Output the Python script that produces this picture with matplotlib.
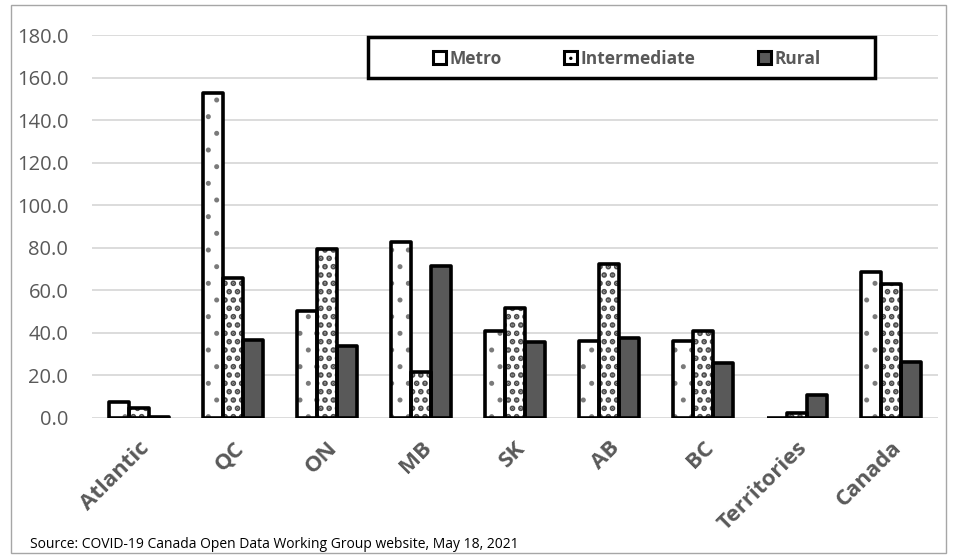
import numpy as np
import matplotlib as mpl
import matplotlib.pyplot as plt
from matplotlib.patches import Rectangle, Patch

plt.rcParams['font.family'] = ['Open Sans', 'DejaVu Sans']
plt.rcParams['hatch.linewidth'] = 1.2

regions = ['Atlantic', 'QC', 'ON', 'MB', 'SK', 'AB', 'BC', 'Territories', 'Canada']
metro = [7.4, 152.8, 50.4, 82.6, 41.0, 36.0, 36.4, 0.0, 68.6]
intermediate = [4.7, 65.8, 79.3, 21.6, 51.5, 72.2, 41.1, 2.3, 63.0]
rural = [0.5, 36.8, 33.6, 71.4, 35.6, 37.8, 25.7, 10.7, 26.1]
series_names = ['Metro', 'Intermediate', 'Rural']
source_note = 'Source: COVID-19 Canada Open Data Working Group website, May 18, 2021'

txt_grey = '#595959'
styles = [
    dict(facecolor='white', hatch='.', hatch_col='#7a7a7a', hlw=1.2),
    dict(facecolor='white', hatch='..', hatch_col='#4d4d4d', hlw=2.8),
    dict(facecolor='#595959', hatch=None, hatch_col='#595959', hlw=1.2),
]

fig = plt.figure(figsize=(9.56, 5.58), dpi=100)
ax = fig.add_axes([0.0962, 0.251, 0.885, 0.686])

x = np.arange(len(regions))
w = 0.213
for i, (vals, st) in enumerate(zip([metro, intermediate, rural], styles)):
    pos = x + (i - 1) * w
    # fill + hatch first, then a thick black outline on top
    with mpl.rc_context({'hatch.linewidth': st['hlw']}):
        ax.bar(pos, vals, w, color=st['facecolor'], hatch=st['hatch'],
               edgecolor=st['hatch_col'], linewidth=0, zorder=2)
    ax.bar(pos, vals, w, fill=False, edgecolor='black', linewidth=2.6,
           joinstyle='round', zorder=3)

ax.set_xlim(-0.5, len(regions) - 0.5)
ax.set_ylim(0, 180)
ax.set_yticks(np.arange(0, 181, 20))
ax.set_yticklabels([f'{v:.1f}' for v in np.arange(0, 181, 20)],
                   fontsize=14.5, color=txt_grey)
ax.set_xticks(x)
ax.set_xticklabels(regions, rotation=45, ha='right', rotation_mode='anchor',
                   fontsize=16, fontweight='bold', color=txt_grey)
ax.tick_params(axis='y', length=0, pad=17)
ax.tick_params(axis='x', length=0, pad=14)
ax.grid(axis='y', color='#d9d9d9', linewidth=1.3, zorder=0)
ax.set_axisbelow(True)
for s in ax.spines.values():
    s.set_visible(False)

# legend with its own heavy frame
handles = []
for st in styles:
    with mpl.rc_context({'hatch.linewidth': st['hlw']}):
        handles.append(Patch(facecolor=st['facecolor'], hatch=st['hatch'],
                             edgecolor='black', linewidth=2.2))
leg = fig.legend(handles, series_names, loc='center',
                 bbox_to_anchor=(0.656, 0.895), ncol=3, frameon=False,
                 handlelength=0.75, handleheight=0.75, handletextpad=0.2,
                 columnspacing=3.6,
                 prop=dict(size=12.5, weight='bold'))
for t in leg.get_texts():
    t.set_color(txt_grey)
fig.patches.append(Rectangle((368 / 956, 1 - 78 / 558), 507 / 956, 41 / 558,
                             transform=fig.transFigure, fill=False,
                             edgecolor='black', linewidth=2.5, zorder=5))

# outer chart border
fig.patches.append(Rectangle((11 / 956, 5 / 558), 935 / 956, 548 / 558,
                             transform=fig.transFigure, fill=False,
                             edgecolor='#a6a6a6', linewidth=1.0))

fig.text(30 / 956, 1 - 545 / 558, source_note, fontsize=10, va='center',
         color='black')

fig.savefig('out.png', dpi=100)
